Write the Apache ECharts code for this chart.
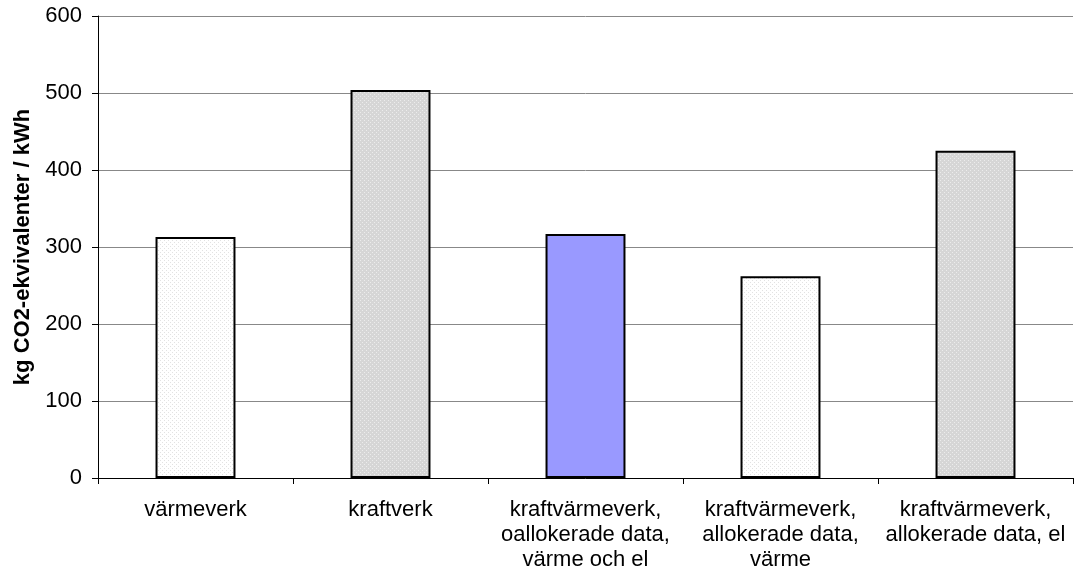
<!DOCTYPE html>
<html>
<head>
<meta charset="utf-8">
<script src="https://cdn.jsdelivr.net/npm/echarts@6/dist/echarts.min.js"></script>
<style>
  html, body { margin: 0; padding: 0; background: #fff; }
  #chart { width: 1074px; height: 578px; }
</style>
</head>
<body>
<div id="chart"></div>
<script>
// data
var categories = [
  'värmeverk',
  'kraftverk',
  'kraftvärmeverk,\noallokerade data,\nvärme och el',
  'kraftvärmeverk,\nallokerade data,\nvärme',
  'kraftvärmeverk,\nallokerade data, el'
];
var values = [313, 504, 317, 262, 425];
var yTicks = [0, 100, 200, 300, 400, 500, 600];

// small dotted fills like the original
function dots(bg, dot) {
  var c = document.createElement('canvas');
  c.width = 4; c.height = 4;
  var ctx = c.getContext('2d');
  ctx.fillStyle = bg;
  ctx.fillRect(0, 0, 4, 4);
  ctx.fillStyle = dot;
  ctx.fillRect(0, 0, 1, 1);
  ctx.fillRect(2, 2, 1, 1);
  return { image: c, repeat: 'repeat' };
}
var fills = [
  dots('#ffffff', '#e2e2e2'),
  dots('#d6d6d6', '#ececec'),
  '#9999ff',
  dots('#ffffff', '#e2e2e2'),
  dots('#d6d6d6', '#ececec')
];

var chart = echarts.init(document.getElementById('chart'));
var option = {
  animation: false,
  textStyle: { fontFamily: 'Liberation Sans, Arial, sans-serif' },
  grid: { left: 98, right: 1, top: 16, bottom: 100 },
  xAxis: {
    type: 'category',
    data: categories,
    axisLine: { lineStyle: { color: '#000', width: 1 } },
    axisTick: { show: true, length: 6, lineStyle: { color: '#000' } },
    axisLabel: { interval: 0, color: '#000', fontSize: 22, lineHeight: 25, margin: 19 }
  },
  yAxis: {
    type: 'value',
    min: 0, max: 600, interval: 100,
    name: 'kg CO2-ekvivalenter / kWh',
    nameLocation: 'middle',
    nameGap: 63,
    nameTextStyle: { color: '#000', fontSize: 22, fontWeight: 'bold' },
    axisLine: { show: true, lineStyle: { color: '#000', width: 1 } },
    axisTick: { show: true, length: 6, lineStyle: { color: '#000' } },
    axisLabel: { color: '#000', fontSize: 22, margin: 16,
      formatter: function (v) { return yTicks.indexOf(v) >= 0 ? String(v) : ''; } },
    splitLine: { lineStyle: { color: '#888', width: 1 } }
  },
  series: [{
    type: 'bar',
    barWidth: '41%',
    data: values.map(function (v, i) {
      return { value: v, itemStyle: { color: fills[i], borderColor: '#000', borderWidth: 2 } };
    })
  }]
};
chart.setOption(option);
</script>
</body>
</html>
